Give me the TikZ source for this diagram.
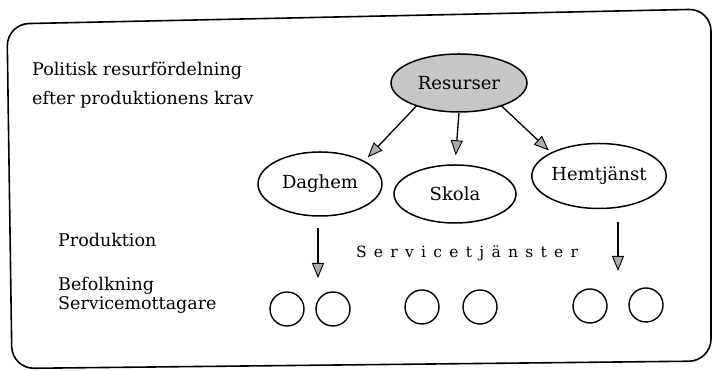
\documentclass[tikz,border=0pt]{standalone}
\usepackage{fontspec}
\setmainfont{DejaVu Serif}
\usetikzlibrary{shapes.geometric,arrows.meta}
\begin{document}
\begin{tikzpicture}[x=1pt,y=1pt,
  txt/.style={font=\fontsize{17.5}{20}\selectfont, inner sep=0pt},
  oval/.style={draw, line width=1.5pt, ellipse, inner sep=0pt, font=\fontsize{18}{20}\selectfont},
  person/.style={draw, line width=1.4pt, ellipse, minimum width=34pt, minimum height=34pt, inner sep=0pt},
  flow/.style={line width=1.3pt, -{Triangle[width=12pt,length=15pt,fill=gray!65,line width=0.9pt]}}
]
\useasboundingbox (0,0) rectangle (713,371);
% outer frame, slightly tilted
\draw[line width=1.6pt, rounded corners=22pt]
  (360,354.5) -- (711,362) -- (711,10) -- (12,2.5) -- (7,347) -- cycle;

% left-hand labels
\node[txt, anchor=base west] (pol1) at (32,295) {Politisk resurfördelning};
\node[txt, anchor=base west] (pol2) at (32,266) {efter produktionens krav};
\node[txt, anchor=base west] (prod) at (58,124) {Produktion};
\node[txt, anchor=base west] (bef) at (58,80) {Befolkning};
\node[txt, anchor=base west] (smot) at (58,61) {Servicemottagare};

% resources and the three services
\node[oval, fill=gray!45, minimum width=136pt, minimum height=58pt] (res) at (459,288) {Resurser};
\node[oval, minimum width=124pt, minimum height=64pt] (dag) at (320,187) {Daghem};
\node[oval, minimum width=122pt, minimum height=58pt] (sko) at (455,177) {Skola};
\node[oval, minimum width=126pt, minimum height=65pt] (hem) at (599,195) {Hemtjänst};

\draw[flow, shorten >=5pt] (res.south west) ++(6,-2) coordinate (r1) -- (dag.north east);
\draw[flow, shorten >=9pt] (res.south) -- (sko.north);
\draw[flow, shorten >=3pt] (res.south east) ++(-6,-2) coordinate (r3) -- (hem.north west);

% service delivery
\coordinate (d1) at (318,143);
\coordinate (d2) at (318,93);
\coordinate (h1) at (618,149);
\coordinate (h2) at (618,100);
\draw[flow] (d1) -- (d2);
\draw[flow] (h1) -- (h2);
\node[txt, font=\fontsize{15.5}{18}\selectfont] (serv) at (467,118)
  {S\kern7.3pt e\kern7.3pt r\kern7.3pt v\kern7.3pt i\kern7.3pt c\kern7.3pt e\kern7.3pt t\kern7.3pt j\kern7.3pt ä\kern7.3pt n\kern7.3pt s\kern7.3pt t\kern7.3pt e\kern7.3pt r};

% population receiving the services
\node[person] (p1) at (287,62) {};
\node[person] (p2) at (333,62) {};
\node[person] (p3) at (422,64) {};
\node[person] (p4) at (480,64) {};
\node[person] (p5) at (590,65) {};
\node[person] (p6) at (646,66) {};
\end{tikzpicture}
\end{document}
